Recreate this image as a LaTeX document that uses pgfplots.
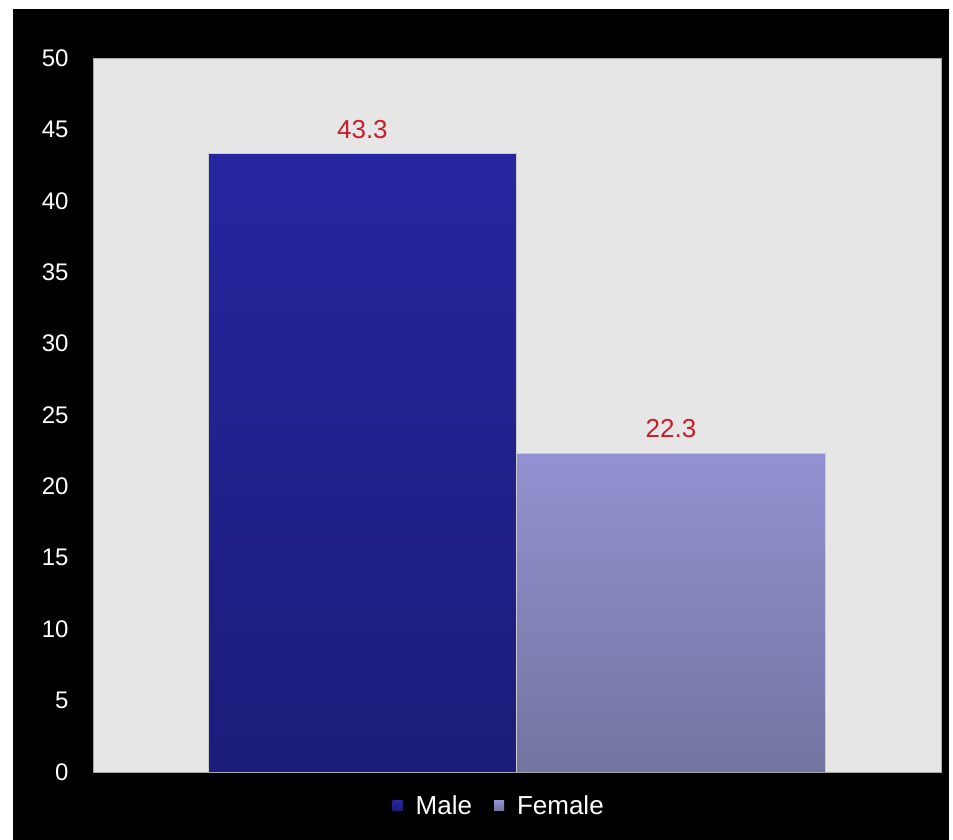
\documentclass[border=0pt]{standalone}
\usepackage{fontspec}
\setmainfont{Liberation Sans}
\usepackage{pgfplots}
\pgfplotsset{compat=1.18}
\definecolor{plotbg}{RGB}{230,230,230}
\definecolor{maletop}{RGB}{38,38,160}
\definecolor{malebot}{RGB}{28,28,122}
\definecolor{femtop}{RGB}{146,146,210}
\definecolor{fembot}{RGB}{116,116,160}
\definecolor{lblred}{RGB}{200,30,40}
\begin{document}
\begin{tikzpicture}
\fill[white] (0,0) rectangle (953pt,840pt);
\fill[black] (13pt,0) rectangle (949pt,831pt);
\path[use as bounding box] (0,0) rectangle (953pt,840pt);
\begin{axis}[
  at={(93pt,68pt)}, anchor=south west,
  scale only axis, width=848pt, height=714pt,
  xmin=-0.873, xmax=1.875, ymin=0, ymax=50,
  ytick distance=5, xtick=\empty,
  major tick length=0pt,
  /pgf/number format/assume math mode=true,
  yticklabel style={text=white, font=\fontsize{24}{24}\selectfont, xshift=-21pt},
  axis background/.style={fill=plotbg},
  axis line style={draw=gray!70, line width=0.8pt},
  ybar, bar shift=0pt, bar width=1,
  nodes near coords,
  every node near coord/.append style={text=lblred, font=\fontsize{26}{26}\selectfont, inner sep=0pt, yshift=15pt,
    /pgf/number format/fixed, /pgf/number format/precision=1, /pgf/number format/fixed zerofill},
  legend style={at={(0.479,-0.047)}, anchor=center, legend columns=2, fill=black, draw=none,
    text=white, font=\fontsize{26}{26}\selectfont, inner sep=0pt,
    /tikz/every even column/.append style={column sep=20pt}},
  legend image code/.code={\path[draw=none, fill=none] (0pt,0pt) -- (21pt,0pt); \fill[#1, draw=none] (0pt,-5pt) rectangle (10pt,5pt);},
]
\addplot[draw=gray!40, line width=0.6pt, top color=maletop, bottom color=malebot] coordinates {(0,43.3)};
\addlegendentry{Male}
\addplot[draw=gray!40, line width=0.6pt, top color=femtop, bottom color=fembot] coordinates {(1,22.3)};
\addlegendentry{Female}
\end{axis}
\end{tikzpicture}
\end{document}
